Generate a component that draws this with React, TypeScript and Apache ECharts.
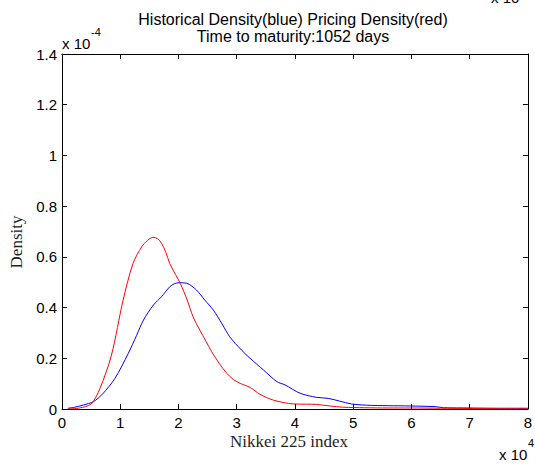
import React, { useEffect, useRef } from "react";
import * as echarts from "echarts";

const titleLines = ["Historical Density(blue) Pricing Density(red)", "Time to maturity:1052 days"];
const xName = "Nikkei 225 index";
const yName = "Density";

// x in units of 1e4, y in units of 1e-4
const redX = [0.1, 0.3, 0.5, 0.65, 0.85, 1.05, 1.22, 1.37, 1.47, 1.56, 1.64, 1.71, 1.78, 1.85, 1.95, 2.03, 2.15, 2.25, 2.37, 2.47, 2.57, 2.7, 2.83, 2.95, 3.06, 3.23, 3.4, 3.63, 3.97, 4.2, 4.37, 4.6, 4.83, 5.2, 5.6, 6.0, 6.5, 7.0, 7.5, 8.0];
const redY = [0.0, 0.004, 0.02, 0.08, 0.213, 0.43, 0.574, 0.64, 0.665, 0.677, 0.672, 0.653, 0.62, 0.574, 0.53, 0.496, 0.43, 0.364, 0.31, 0.268, 0.226, 0.18, 0.141, 0.115, 0.101, 0.085, 0.058, 0.035, 0.02, 0.019, 0.018, 0.012, 0.007, 0.005, 0.004, 0.004, 0.003, 0.002, 0.001, 0.001];

const blueX = [0.1, 0.2, 0.37, 0.54, 0.7, 0.91, 1.14, 1.28, 1.4, 1.57, 1.71, 1.85, 1.93, 2.01, 2.14, 2.31, 2.45, 2.6, 2.75, 2.88, 3.08, 3.23, 3.46, 3.69, 3.83, 4.09, 4.37, 4.57, 4.77, 4.97, 5.23, 5.6, 5.97, 6.43, 6.55, 7.0, 7.5, 8.0];
const blueY = [0.003, 0.006, 0.016, 0.029, 0.06, 0.121, 0.22, 0.29, 0.351, 0.41, 0.443, 0.482, 0.494, 0.498, 0.496, 0.469, 0.43, 0.39, 0.335, 0.285, 0.233, 0.2, 0.154, 0.108, 0.095, 0.062, 0.046, 0.042, 0.031, 0.02, 0.015, 0.013, 0.012, 0.009, 0.005, 0.004, 0.003, 0.003];

const X_MIN = 0, X_MAX = 8, X_INT = 1;
const Y_MIN = 0, Y_MAX = 1.4, Y_INT = 0.2;

const SANS = "'Liberation Sans', Arial, sans-serif";
const SERIF = "'Liberation Serif', 'Times New Roman', serif";

export default function App() {
  const ref = useRef<HTMLDivElement>(null);
  useEffect(() => {
    if (!ref.current) return;
    const chart = echarts.init(ref.current, null, { renderer: "svg" });
    const zip = (xs: number[], ys: number[]) => xs.map((x, i) => [x, ys[i]]);
    const tickCommon = {
      show: true,
      inside: true,
      length: 5,
      lineStyle: { color: "#000", width: 1 },
    };
    const axisLineCommon = { show: true, onZero: false, lineStyle: { color: "#000", width: 1 } };
    const labelStyle = { color: "#000", fontSize: 15, fontFamily: SANS };
    chart.setOption({
      animation: false,
      backgroundColor: "#fff",
      grid: { left: 62, right: 7, top: 54, bottom: 55, containLabel: false },
      xAxis: [
        {
          type: "value",
          position: "bottom",
          min: X_MIN,
          max: X_MAX,
          interval: X_INT,
          axisLine: axisLineCommon,
          axisTick: tickCommon,
          splitLine: { show: false },
          axisLabel: { ...labelStyle, margin: 6 },
        },
        {
          type: "value",
          position: "top",
          min: X_MIN,
          max: X_MAX,
          interval: X_INT,
          axisLine: axisLineCommon,
          axisTick: tickCommon,
          splitLine: { show: false },
          axisLabel: { show: false },
        },
      ],
      yAxis: [
        {
          type: "value",
          position: "left",
          min: Y_MIN,
          max: Y_MAX,
          interval: Y_INT,
          axisLine: axisLineCommon,
          axisTick: tickCommon,
          splitLine: { show: false },
          axisLabel: { ...labelStyle, margin: 5 },
        },
        {
          type: "value",
          position: "right",
          min: Y_MIN,
          max: Y_MAX,
          interval: Y_INT,
          axisLine: axisLineCommon,
          axisTick: tickCommon,
          splitLine: { show: false },
          axisLabel: { show: false },
        },
      ],
      series: [
        {
          type: "line",
          name: "Historical",
          data: zip(blueX, blueY),
          showSymbol: false,
          smooth: 0.3,
          lineStyle: { color: "#0000ff", width: 1 },
          itemStyle: { color: "#0000ff" },
        },
        {
          type: "line",
          name: "Pricing",
          data: zip(redX, redY),
          showSymbol: false,
          smooth: 0.3,
          lineStyle: { color: "#ff0000", width: 1 },
          itemStyle: { color: "#ff0000" },
        },
      ],
      graphic: [
        { type: "text", x: 293, y: 19, style: { text: titleLines[0], font: `16px ${SANS}`, fill: "#000", align: "center", verticalAlign: "middle" } },
        { type: "text", x: 293, y: 36, style: { text: titleLines[1], font: `16px ${SANS}`, fill: "#000", align: "center", verticalAlign: "middle" } },
        { type: "text", x: 289, y: 441, style: { text: xName, font: `17px ${SERIF}`, fill: "#222", align: "center", verticalAlign: "middle" } },
        { type: "text", x: 16, y: 242, rotation: Math.PI / 2, style: { text: yName, font: `17px ${SERIF}`, fill: "#222", align: "center", verticalAlign: "middle" } },
        { type: "text", x: 62, y: 43, style: { text: "x 10", font: `15px ${SANS}`, fill: "#000", align: "left", verticalAlign: "middle" } },
        { type: "text", x: 91, y: 32, style: { text: "-4", font: `11px ${SANS}`, fill: "#000", align: "left", verticalAlign: "middle" } },
        { type: "text", x: 499, y: 454, style: { text: "x 10", font: `15px ${SANS}`, fill: "#000", align: "left", verticalAlign: "middle" } },
        { type: "text", x: 528, y: 443, style: { text: "4", font: `11px ${SANS}`, fill: "#000", align: "left", verticalAlign: "middle" } },
        { type: "text", x: 491, y: -3, style: { text: "x 10", font: `15px ${SANS}`, fill: "#000", align: "left", verticalAlign: "middle" } },
      ],
    });
    return () => chart.dispose();
  }, []);
  return (
    <div
      ref={ref}
      style={{ position: "fixed", left: 0, top: 0, width: 535, height: 464 }}
    />
  );
}
